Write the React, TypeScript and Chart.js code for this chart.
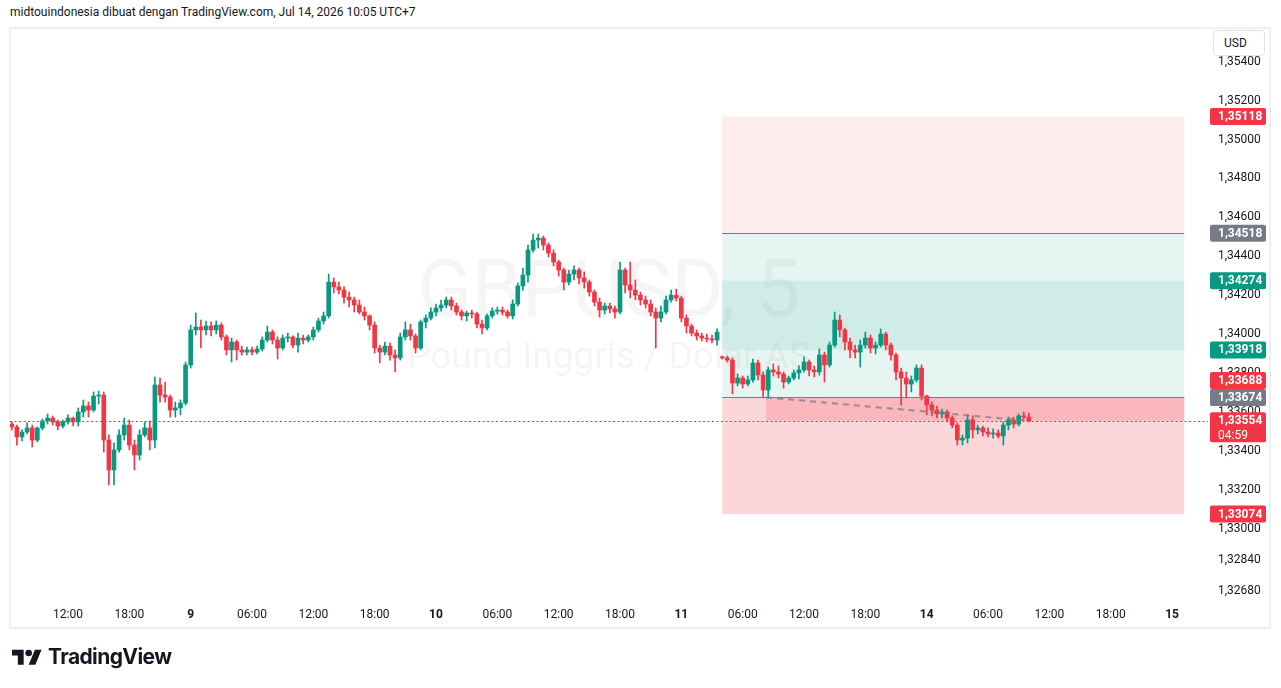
import React, { useEffect, useRef } from 'react';
import { Chart, registerables } from 'chart.js';

Chart.register(...registerables);

// ---- Candles (30-minute aggregation of the GBPUSD 5m chart), hours relative to Jul 8 12:00 (weekend removed)
const START_HOUR = -5.5;
const BAR_HOURS = 0.5;

const opens = [
  1.33537, 1.33522, 1.33471, 1.33496, 1.33517, 1.33455, 1.33517, 1.33553, 1.33568, 1.33548,
  1.33527, 1.33548, 1.33568, 1.33548, 1.33599, 1.33630, 1.33609, 1.33681, 1.33686, 1.33455,
  1.33301, 1.33404, 1.33481, 1.33532, 1.33429, 1.33378, 1.33481, 1.33517, 1.33455, 1.33738,
  1.33686, 1.33676, 1.33609, 1.33620, 1.33645, 1.33841, 1.34021, 1.34036, 1.34021, 1.34041,
  1.34021, 1.34046, 1.33985, 1.33918, 1.33959, 1.33918, 1.33907, 1.33918, 1.33907, 1.33923,
  1.33969, 1.34010, 1.33969, 1.33928, 1.33979, 1.33985, 1.33943, 1.33979, 1.33969, 1.33985,
  1.34021, 1.34067, 1.34093, 1.34267, 1.34242, 1.34226, 1.34190, 1.34175, 1.34149, 1.34113,
  1.34093, 1.34046, 1.33928, 1.33907, 1.33938, 1.33892, 1.33877, 1.33985, 1.34021, 1.33990,
  1.33928, 1.34062, 1.34082, 1.34113, 1.34134, 1.34149, 1.34175, 1.34144, 1.34113, 1.34093,
  1.34108, 1.34103, 1.34051, 1.34031, 1.34093, 1.34118, 1.34123, 1.34113, 1.34093, 1.34154,
  1.34247, 1.34303, 1.34432, 1.34483, 1.34493, 1.34457, 1.34416, 1.34370, 1.34329, 1.34267,
  1.34308, 1.34329, 1.34288, 1.34267, 1.34216, 1.34164, 1.34123, 1.34144, 1.34129, 1.34113,
  1.34329, 1.34252, 1.34226, 1.34200, 1.34175, 1.34154, 1.34113, 1.34082, 1.34113, 1.34175,
  1.34200, 1.34185, 1.34082, 1.34041, 1.34005, 1.33990, 1.33979, 1.33974, 1.33969, 1.33882,
  1.33877, 1.33866, 1.33748, 1.33774, 1.33743, 1.33764, 1.33851, 1.33789, 1.33712, 1.33815,
  1.33805, 1.33794, 1.33753, 1.33774, 1.33800, 1.33815, 1.33856, 1.33815, 1.33805, 1.33892,
  1.33841, 1.33943, 1.34072, 1.34021, 1.33959, 1.33918, 1.33907, 1.33943, 1.33979, 1.33928,
  1.33943, 1.34000, 1.33943, 1.33892, 1.33805, 1.33774, 1.33743, 1.33764, 1.33825, 1.33681,
  1.33635, 1.33609, 1.33589, 1.33599, 1.33568, 1.33532, 1.33455, 1.33465, 1.33558, 1.33507,
  1.33517, 1.33496, 1.33486, 1.33491, 1.33476, 1.33532, 1.33558, 1.33537, 1.33579, 1.33573,
];

const highs = [
  1.33548, 1.33532, 1.33507, 1.33543, 1.33532, 1.33522, 1.33563, 1.33589, 1.33579, 1.33558,
  1.33558, 1.33584, 1.33573, 1.33620, 1.33661, 1.33650, 1.33702, 1.33707, 1.33702, 1.33481,
  1.33440, 1.33507, 1.33568, 1.33558, 1.33455, 1.33507, 1.33548, 1.33553, 1.33779, 1.33774,
  1.33753, 1.33686, 1.33650, 1.33661, 1.33856, 1.34046, 1.34108, 1.34072, 1.34067, 1.34062,
  1.34067, 1.34057, 1.33995, 1.33979, 1.33969, 1.33938, 1.33933, 1.33933, 1.33938, 1.33985,
  1.34041, 1.34021, 1.33985, 1.33995, 1.34005, 1.33990, 1.34005, 1.33995, 1.33995, 1.34036,
  1.34082, 1.34113, 1.34308, 1.34288, 1.34267, 1.34242, 1.34216, 1.34190, 1.34175, 1.34139,
  1.34098, 1.34062, 1.33943, 1.33959, 1.33954, 1.33918, 1.34005, 1.34062, 1.34051, 1.34000,
  1.34072, 1.34098, 1.34134, 1.34154, 1.34175, 1.34190, 1.34190, 1.34159, 1.34123, 1.34118,
  1.34123, 1.34113, 1.34072, 1.34103, 1.34134, 1.34139, 1.34139, 1.34123, 1.34175, 1.34262,
  1.34339, 1.34457, 1.34514, 1.34514, 1.34504, 1.34468, 1.34432, 1.34380, 1.34339, 1.34329,
  1.34350, 1.34339, 1.34319, 1.34278, 1.34226, 1.34185, 1.34159, 1.34159, 1.34144, 1.34370,
  1.34339, 1.34370, 1.34278, 1.34216, 1.34195, 1.34175, 1.34134, 1.34144, 1.34195, 1.34226,
  1.34231, 1.34195, 1.34098, 1.34051, 1.34021, 1.34005, 1.34000, 1.33995, 1.34026, 1.33887,
  1.33887, 1.33877, 1.33794, 1.33784, 1.33784, 1.33871, 1.33866, 1.33805, 1.33830, 1.33846,
  1.33836, 1.33805, 1.33784, 1.33815, 1.33836, 1.33882, 1.33866, 1.33836, 1.33923, 1.33907,
  1.33959, 1.34113, 1.34098, 1.34031, 1.33979, 1.33943, 1.33969, 1.34010, 1.33995, 1.33959,
  1.34026, 1.34010, 1.33954, 1.33902, 1.33825, 1.33805, 1.33784, 1.33841, 1.33841, 1.33686,
  1.33650, 1.33630, 1.33614, 1.33609, 1.33579, 1.33543, 1.33481, 1.33584, 1.33579, 1.33532,
  1.33527, 1.33517, 1.33512, 1.33507, 1.33548, 1.33573, 1.33573, 1.33589, 1.33599, 1.33594,
];

const lows = [
  1.33507, 1.33429, 1.33450, 1.33486, 1.33419, 1.33445, 1.33507, 1.33537, 1.33532, 1.33507,
  1.33517, 1.33537, 1.33527, 1.33527, 1.33573, 1.33573, 1.33599, 1.33640, 1.33393, 1.33224,
  1.33224, 1.33393, 1.33455, 1.33404, 1.33301, 1.33352, 1.33471, 1.33404, 1.33414, 1.33650,
  1.33650, 1.33573, 1.33573, 1.33584, 1.33635, 1.33825, 1.33995, 1.33928, 1.33995, 1.33990,
  1.34000, 1.33969, 1.33892, 1.33856, 1.33866, 1.33892, 1.33892, 1.33892, 1.33897, 1.33913,
  1.33959, 1.33949, 1.33871, 1.33918, 1.33959, 1.33928, 1.33907, 1.33949, 1.33959, 1.33969,
  1.34010, 1.34051, 1.34082, 1.34211, 1.34206, 1.34159, 1.34139, 1.34113, 1.34103, 1.34072,
  1.34021, 1.33902, 1.33851, 1.33892, 1.33866, 1.33805, 1.33866, 1.33969, 1.33969, 1.33902,
  1.33918, 1.34031, 1.34072, 1.34093, 1.34118, 1.34134, 1.34123, 1.34098, 1.34072, 1.34067,
  1.34082, 1.34031, 1.34000, 1.34021, 1.34082, 1.34103, 1.34098, 1.34082, 1.34077, 1.34144,
  1.34226, 1.34267, 1.34421, 1.34442, 1.34432, 1.34396, 1.34350, 1.34298, 1.34226, 1.34252,
  1.34278, 1.34257, 1.34236, 1.34195, 1.34144, 1.34087, 1.34103, 1.34108, 1.34082, 1.34103,
  1.34211, 1.34185, 1.34175, 1.34149, 1.34134, 1.34093, 1.33928, 1.34062, 1.34103, 1.34164,
  1.34170, 1.34062, 1.34005, 1.33990, 1.33969, 1.33964, 1.33959, 1.33954, 1.33943, 1.33871,
  1.33856, 1.33692, 1.33733, 1.33722, 1.33733, 1.33753, 1.33764, 1.33671, 1.33671, 1.33784,
  1.33774, 1.33722, 1.33743, 1.33764, 1.33769, 1.33805, 1.33784, 1.33779, 1.33789, 1.33753,
  1.33830, 1.33933, 1.33985, 1.33918, 1.33877, 1.33877, 1.33830, 1.33928, 1.33902, 1.33897,
  1.33933, 1.33918, 1.33866, 1.33764, 1.33635, 1.33671, 1.33702, 1.33753, 1.33661, 1.33584,
  1.33579, 1.33568, 1.33568, 1.33548, 1.33517, 1.33429, 1.33429, 1.33440, 1.33465, 1.33486,
  1.33476, 1.33471, 1.33465, 1.33465, 1.33429, 1.33507, 1.33517, 1.33527, 1.33563, 1.33548,
];

const closes = [
  1.33522, 1.33471, 1.33496, 1.33517, 1.33455, 1.33517, 1.33553, 1.33568, 1.33548, 1.33527,
  1.33548, 1.33568, 1.33548, 1.33599, 1.33630, 1.33609, 1.33681, 1.33686, 1.33455, 1.33301,
  1.33404, 1.33481, 1.33532, 1.33429, 1.33378, 1.33481, 1.33517, 1.33455, 1.33738, 1.33686,
  1.33676, 1.33609, 1.33620, 1.33645, 1.33841, 1.34021, 1.34036, 1.34021, 1.34041, 1.34021,
  1.34046, 1.33985, 1.33918, 1.33959, 1.33918, 1.33907, 1.33918, 1.33907, 1.33923, 1.33969,
  1.34010, 1.33969, 1.33928, 1.33979, 1.33985, 1.33943, 1.33979, 1.33969, 1.33985, 1.34021,
  1.34067, 1.34093, 1.34267, 1.34242, 1.34226, 1.34190, 1.34175, 1.34149, 1.34113, 1.34093,
  1.34046, 1.33928, 1.33907, 1.33938, 1.33892, 1.33877, 1.33985, 1.34021, 1.33990, 1.33928,
  1.34062, 1.34082, 1.34113, 1.34134, 1.34149, 1.34175, 1.34144, 1.34113, 1.34093, 1.34108,
  1.34103, 1.34051, 1.34031, 1.34093, 1.34118, 1.34123, 1.34113, 1.34093, 1.34154, 1.34247,
  1.34303, 1.34432, 1.34483, 1.34493, 1.34457, 1.34416, 1.34370, 1.34329, 1.34267, 1.34308,
  1.34329, 1.34288, 1.34267, 1.34216, 1.34164, 1.34123, 1.34144, 1.34129, 1.34113, 1.34329,
  1.34252, 1.34226, 1.34200, 1.34175, 1.34154, 1.34113, 1.34082, 1.34113, 1.34175, 1.34200,
  1.34185, 1.34082, 1.34041, 1.34005, 1.33990, 1.33979, 1.33974, 1.33969, 1.34010, 1.33877,
  1.33866, 1.33748, 1.33774, 1.33743, 1.33764, 1.33851, 1.33789, 1.33712, 1.33815, 1.33805,
  1.33794, 1.33753, 1.33774, 1.33800, 1.33815, 1.33856, 1.33815, 1.33805, 1.33892, 1.33841,
  1.33943, 1.34072, 1.34021, 1.33959, 1.33918, 1.33907, 1.33943, 1.33979, 1.33928, 1.33943,
  1.34000, 1.33943, 1.33892, 1.33805, 1.33774, 1.33743, 1.33764, 1.33825, 1.33681, 1.33635,
  1.33609, 1.33589, 1.33599, 1.33568, 1.33532, 1.33455, 1.33465, 1.33558, 1.33507, 1.33517,
  1.33496, 1.33486, 1.33491, 1.33476, 1.33532, 1.33558, 1.33537, 1.33579, 1.33573, 1.33554,
];

// ---- Axes
const timeTicks = [0, 6, 12, 18, 24, 30, 36, 42, 48, 54, 60, 66, 72, 78, 84, 90, 96, 102, 108];
const timeLabels = ['12:00', '18:00', '9', '06:00', '12:00', '18:00', '10', '06:00', '12:00', '18:00', '11', '06:00', '12:00', '18:00', '14', '06:00', '12:00', '18:00', '15'];
const dayLabels = ['9', '10', '11', '14', '15'];
const priceTicks = [1.3268, 1.3284, 1.33, 1.332, 1.334, 1.336, 1.338, 1.34, 1.342, 1.344, 1.346, 1.348, 1.35, 1.352, 1.354];
const X_MIN = -5.674;
const X_MAX = 111.52;
const Y_MIN = 1.326324;
const Y_MAX = 1.355733;

// ---- Position tool & price levels
const zoneStart = 64.0;
const zoneEnd = 109.2;
const entryTime = 68.3;
const lastTime = 94.0;
const stopTop = 1.35118;
const upperLine = 1.34518;
const bandTop = 1.34274;
const bandBottom = 1.33918;
const entryPrice = 1.33674;
const stopBottom = 1.33074;
const lastPrice = 1.33554;
const countdown = '04:59';

const badgePrices = [1.35118, 1.34518, 1.34274, 1.33918, 1.33688, 1.33674, 1.33554, 1.33074];
const badgeKinds = ['red', 'gray', 'green', 'green', 'red', 'gray', 'red', 'red'];

const GREEN = '#089981';
const RED = '#F23645';
const GRAY = '#787B86';
const TEXT = '#131722';
const FONT = 'Roboto, "Noto Sans", sans-serif';

const fmt = (v: number) => v.toFixed(5).replace('.', ',');

export default function App() {
  const ref = useRef<HTMLCanvasElement | null>(null);

  useEffect(() => {
    const canvas = ref.current;
    if (!canvas) return;
    const times = closes.map((_, i) => START_HOUR + i * BAR_HOURS);
    const isUp = (i: number) => closes[i] >= opens[i];
    const colorFor = (c: any) => (isUp(c.dataIndex) ? GREEN : RED);

    const overlay = {
      id: 'overlay',
      beforeDatasetsDraw(chart: any) {
        const { ctx, chartArea: a, scales } = chart;
        const x = scales.x;
        const y = scales.y;
        ctx.save();
        ctx.beginPath();
        ctx.rect(a.left, a.top, a.right - a.left, a.bottom - a.top);
        ctx.clip();
        // watermark
        const cx = (a.left + a.right) / 2;
        ctx.fillStyle = 'rgba(19,23,34,0.045)';
        ctx.textAlign = 'center';
        ctx.textBaseline = 'alphabetic';
        ctx.font = `80px ${FONT}`;
        ctx.fillText('GBPUSD, 5', cx, a.top + 288);
        ctx.font = `37px ${FONT}`;
        ctx.fillText('Pound Inggris / Dolar AS', cx, a.top + 340);
        // zones
        const x0 = x.getPixelForValue(zoneStart);
        const x1 = x.getPixelForValue(zoneEnd);
        const box = (p1: number, p2: number, color: string, xs: number) => {
          const ya = y.getPixelForValue(p1);
          const yb = y.getPixelForValue(p2);
          ctx.fillStyle = color;
          ctx.fillRect(xs, ya, x1 - xs, yb - ya);
        };
        box(stopTop, upperLine, 'rgba(242,54,69,0.1)', x0);
        box(upperLine, entryPrice, 'rgba(8,153,129,0.1)', x0);
        box(bandTop, bandBottom, 'rgba(8,153,129,0.1)', x0);
        box(entryPrice, stopBottom, 'rgba(242,54,69,0.2)', x0);
        box(entryPrice, lastPrice, 'rgba(242,54,69,0.2)', x.getPixelForValue(entryTime));
        ctx.restore();
      },
      afterDatasetsDraw(chart: any) {
        const { ctx, chartArea: a, scales } = chart;
        const x = scales.x;
        const y = scales.y;
        ctx.save();
        ctx.beginPath();
        ctx.rect(a.left, a.top, a.right - a.left, a.bottom - a.top);
        ctx.clip();
        const x0 = x.getPixelForValue(zoneStart);
        const x1 = x.getPixelForValue(zoneEnd);
        ctx.strokeStyle = GRAY;
        ctx.lineWidth = 1;
        [upperLine, entryPrice].forEach((p) => {
          const yy = Math.round(y.getPixelForValue(p)) + 0.5;
          ctx.beginPath();
          ctx.moveTo(x0, yy);
          ctx.lineTo(x1, yy);
          ctx.stroke();
        });
        // dashed line from entry to last price
        ctx.strokeStyle = 'rgba(120,123,134,0.75)';
        ctx.lineWidth = 2;
        ctx.setLineDash([6, 5]);
        ctx.beginPath();
        ctx.moveTo(x.getPixelForValue(entryTime), y.getPixelForValue(entryPrice));
        ctx.lineTo(x.getPixelForValue(lastTime), y.getPixelForValue(lastPrice));
        ctx.stroke();
        // current price dotted line
        ctx.strokeStyle = RED;
        ctx.lineWidth = 1;
        ctx.setLineDash([2, 2.5]);
        const yl = Math.round(y.getPixelForValue(lastPrice)) + 0.5;
        ctx.beginPath();
        ctx.moveTo(a.left, yl);
        ctx.lineTo(a.right, yl);
        ctx.stroke();
        ctx.restore();
      },
      afterDraw(chart: any) {
        const { ctx, chartArea: a, scales } = chart;
        const y = scales.y;
        const colors: Record<string, string> = { red: RED, gray: GRAY, green: GREEN };
        const H = 17;
        const items = badgePrices.map((p, i) => ({ p, kind: badgeKinds[i], c: y.getPixelForValue(p), sub: p === lastPrice }));
        // resolve overlaps from bottom to top
        items.sort((m, n) => n.c - m.c);
        let limit = Infinity;
        items.forEach((it) => {
          const bottom = it.c + H / 2;
          if (bottom > limit) it.c = limit - H / 2;
          limit = it.c - H / 2;
        });
        const left = a.right + 2;
        const w = 56;
        items.forEach((it) => {
          const top = it.c - H / 2;
          const h = it.sub ? 30 : H;
          ctx.fillStyle = colors[it.kind];
          ctx.beginPath();
          (ctx as any).roundRect(left, top, w, h, 2);
          ctx.fill();
          ctx.fillStyle = '#ffffff';
          ctx.textAlign = 'left';
          ctx.textBaseline = 'middle';
          ctx.font = `bold 12px ${FONT}`;
          ctx.fillText(fmt(it.p), a.right + 10, it.c + 0.5);
          if (it.sub) {
            ctx.font = `12px ${FONT}`;
            ctx.fillText(countdown, a.right + 10, it.c + 15.5);
          }
        });
      },
    };

    const chart = new Chart(canvas, {
      type: 'bar',
      data: {
        datasets: [
          {
            data: times.map((t, i) => ({ x: t, y: [lows[i], highs[i]] })) as any,
            backgroundColor: colorFor as any,
            barThickness: 1,
            grouped: false,
            borderWidth: 0,
          } as any,
          {
            data: times.map((t, i) => ({ x: t, y: [opens[i], closes[i]] })) as any,
            backgroundColor: colorFor as any,
            barThickness: 4,
            grouped: false,
            borderWidth: 0,
            minBarLength: 1,
          } as any,
        ],
      },
      options: {
        animation: false,
        responsive: false,
        events: [],
        layout: { padding: { left: 10, top: 28, right: 11, bottom: 60 } },
        plugins: { legend: { display: false }, tooltip: { enabled: false } },
        scales: {
          x: {
            type: 'linear',
            offset: false,
            min: X_MIN,
            max: X_MAX,
            grid: { display: false, drawTicks: false, offset: false },
            border: { display: false },
            afterFit: (s: any) => {
              s.height = 28;
            },
            afterBuildTicks: (s: any) => {
              s.ticks = timeTicks.map((v) => ({ value: v }));
            },
            ticks: {
              autoSkip: false,
              maxRotation: 0,
              padding: 8,
              color: TEXT,
              font: (c: any) => ({ family: FONT, size: 12, weight: dayLabels.includes(timeLabels[c.index]) ? 'bold' : 'normal' }),
              callback: (_v: any, i: number) => timeLabels[i],
            },
          },
          y: {
            type: 'linear',
            position: 'right',
            min: Y_MIN,
            max: Y_MAX,
            grid: { display: false, drawTicks: false },
            border: { display: false },
            afterFit: (s: any) => {
              s.width = 62;
            },
            afterBuildTicks: (s: any) => {
              s.ticks = priceTicks.map((v) => ({ value: v }));
            },
            ticks: {
              autoSkip: false,
              padding: 10,
              color: TEXT,
              font: { family: FONT, size: 12 },
              callback: (v: any) => fmt(Number(v)),
            },
          },
        },
      } as any,
      plugins: [overlay],
    });
    return () => chart.destroy();
  }, []);

  return (
    <div style={{ position: 'absolute', left: 0, top: 0, width: 1281, height: 688, background: '#ffffff', overflow: 'hidden', fontFamily: FONT, color: TEXT }}>
      <div style={{ position: 'absolute', left: 10, top: 5, fontSize: 12, whiteSpace: 'nowrap' }}>
        midtouindonesia dibuat dengan TradingView.com, Jul 14, 2026 10:05 UTC+7
      </div>
      <div style={{ position: 'absolute', left: 9, top: 27, width: 1258, height: 598, border: '2px solid #eef0f3' }} />
      <canvas ref={ref} width={1281} height={688} style={{ position: 'absolute', left: 0, top: 0 }} />
      <div
        style={{
          position: 'absolute', left: 1213, top: 30, width: 52, height: 26, boxSizing: 'border-box',
          border: '1px solid #e0e3eb', borderRadius: 4, background: '#ffffff', fontSize: 12,
          display: 'flex', alignItems: 'center', paddingLeft: 10,
        }}
      >
        USD
      </div>
      <svg style={{ position: 'absolute', left: 12, top: 646 }} width={30} height={24} viewBox="0 0 36 28">
        <path d="M14 22H7V11H0V4h14v18zM28 22h-8l7.5-18h8L28 22z" fill={TEXT} />
        <circle cx={20} cy={8} r={4} fill={TEXT} />
      </svg>
      <div style={{ position: 'absolute', left: 48, top: 644, fontFamily: 'Inter, Roboto, sans-serif', fontWeight: 700, fontSize: 21, letterSpacing: -0.6 }}>
        TradingView
      </div>
    </div>
  );
}
